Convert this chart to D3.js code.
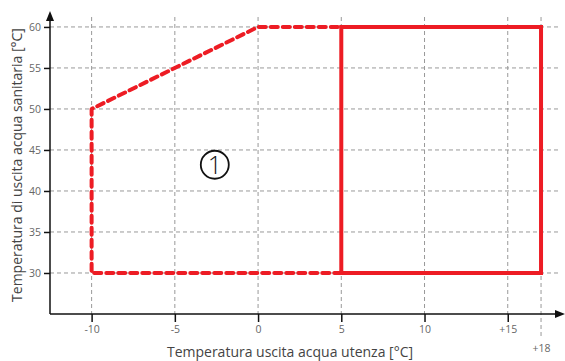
<!DOCTYPE html>
<html>
<head>
<meta charset="utf-8">
<script src="https://cdn.jsdelivr.net/npm/d3@7"></script>
<style>
  body { margin: 0; background: #fff; }
  svg { font-family: 'Open Sans', sans-serif; }
</style>
</head>
<body>
<script>
// data
const xTicks = [-10, -5, 0, 5, 10, 15, 17];
const xTickLabels = ['-10', '-5', '0', '5', '10', '+15', '+18'];
const yTicks = [30, 35, 40, 45, 50, 55, 60];
const dashedX = [5, -10, -10, 0, 5];
const dashedY = [30, 30, 50, 60, 60];
const solidX = [5, 5, 17, 17, 5];
const solidY = [30, 60, 60, 30, 30];
const areaLabel = '1';

const width = 565;
const height = 361;
const red = '#ed1c24';

const svg = d3.select('body').append('svg').attr('width', width).attr('height', height);

const x = d3.scaleLinear().domain([-12.5, 18.5]).range([50, 566]);
const y = d3.scaleLinear().domain([25, 61.7]).range([314, 13]);

// grid
const grid = svg.append('g').attr('stroke', '#999').attr('stroke-width', 1).attr('stroke-dasharray', '4,3');
grid.selectAll('line.h')
  .data(yTicks)
  .enter()
  .append('line')
  .attr('x1', x(-12.5))
  .attr('x2', 560)
  .attr('y1', (d) => y(d))
  .attr('y2', (d) => y(d));
grid.selectAll('line.v')
  .data(xTicks)
  .enter()
  .append('line')
  .attr('x1', (d) => x(d))
  .attr('x2', (d) => x(d))
  .attr('y1', 17)
  .attr('y2', (d, i) => (i === xTicks.length - 1 ? 338 : y(25)));

// axes
const xAxis = (g) =>
  g
    .attr('transform', `translate(0, ${y(25)})`)
    .call(d3.axisBottom(x).tickValues(xTicks).tickFormat((d, i) => xTickLabels[i]).tickSize(8).tickSizeOuter(0).tickPadding(4))
    .call((g) => g.select('.domain').attr('stroke', '#111').attr('stroke-width', 1.5).attr('d', `M${x(-12.5)},0H${width - 8}`))
    .call((g) => g.selectAll('.tick line').attr('stroke', '#111').attr('stroke-width', 1.5))
    .call((g) => g.selectAll('.tick text').attr('fill', '#666').attr('font-size', 10.5).attr('font-family', "'Open Sans', sans-serif"))
    .call((g) => g.selectAll('.tick').filter((d, i) => i === xTicks.length - 1).select('text').attr('dy', '2.5em'))
    .call((g) => g.select('.tick:last-of-type line').remove());

const yAxis = (g) =>
  g
    .attr('transform', `translate(${x(-12.5)}, 0)`)
    .call(d3.axisLeft(y).tickValues(yTicks).tickSize(6).tickSizeOuter(0).tickPadding(3))
    .call((g) => g.select('.domain').attr('stroke', '#111').attr('stroke-width', 1.5).attr('d', `M0,${y(25)}V18`))
    .call((g) => g.selectAll('.tick line').attr('stroke', '#111').attr('stroke-width', 1.5))
    .call((g) => g.selectAll('.tick text').attr('fill', '#666').attr('font-size', 10.5).attr('font-family', "'Open Sans', sans-serif"));

svg.append('g').call(xAxis);
svg.append('g').call(yAxis);

// arrow heads
svg.append('path')
  .attr('d', `M${x(-12.5) - 4},${21} L${x(-12.5)},${11} L${x(-12.5) + 4},${21} Z`)
  .attr('fill', '#111');
svg.append('path')
  .attr('d', `M${width - 10},${y(25) - 4} L${width},${y(25)} L${width - 10},${y(25) + 4} Z`)
  .attr('fill', '#111');

// red envelope
const line = d3.line().x((d) => x(d[0])).y((d) => y(d[1]));

svg.append('path')
  .datum(dashedX.map((d, i) => [d, dashedY[i]]))
  .attr('fill', 'none')
  .attr('stroke', red)
  .attr('stroke-width', 4)
  .attr('stroke-dasharray', '7,5')
  .attr('stroke-linecap', 'round')
  .attr('stroke-linejoin', 'round')
  .attr('d', line);

svg.append('path')
  .datum(solidX.map((d, i) => [d, solidY[i]]))
  .attr('fill', 'none')
  .attr('stroke', red)
  .attr('stroke-width', 4)
  .attr('stroke-linejoin', 'miter')
  .attr('d', line);

// circled label
const cx = x(-2.6);
const cy = y(43.2);
svg.append('circle').attr('cx', cx).attr('cy', cy).attr('r', 14).attr('fill', 'none').attr('stroke', '#111').attr('stroke-width', 1.8);
svg.append('text')
  .text(areaLabel)
  .attr('x', cx)
  .attr('y', cy + 9)
  .attr('text-anchor', 'middle')
  .attr('font-size', 25)
  .attr('font-weight', 300)
  .attr('fill', '#111');

// axis titles
svg.append('text')
  .text('Temperatura uscita acqua utenza [°C]')
  .attr('x', 290)
  .attr('y', 357)
  .attr('text-anchor', 'middle')
  .attr('font-size', 14)
  .attr('fill', '#444');

svg.append('text')
  .text('Temperatura di uscita acqua sanitaria [°C]')
  .attr('transform', 'translate(22, 165) rotate(-90)')
  .attr('text-anchor', 'middle')
  .attr('font-size', 14)
  .attr('fill', '#444');
</script>
</body>
</html>
